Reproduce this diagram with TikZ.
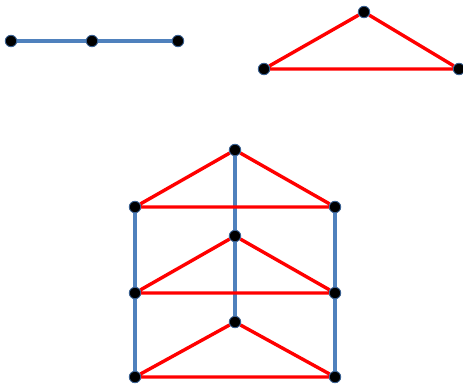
\documentclass[tikz,border=0pt]{standalone}
\usepackage{tikz}
\usetikzlibrary{backgrounds}
\definecolor{pathc}{HTML}{4F81BD}
\definecolor{trc}{HTML}{FF0000}
\definecolor{rimc}{HTML}{3A6090}

\begin{document}
\begin{tikzpicture}[x=1pt, y=-1pt,
    vtx/.style={circle, fill=black, draw=rimc, line width=0.9pt, inner sep=0pt, minimum size=11.5pt},
    pe/.style={pathc, line width=3.4pt},
    te/.style={trc, line width=3.4pt}]
  \useasboundingbox (0,0) rectangle (463,383);
  % path P3
  \foreach \x [count=\i] in {11,92,178}
     \node[vtx] (p\i) at (\x,41) {};
  % triangle K3
  \node[vtx] (t1) at (364,12) {};
  \node[vtx] (t2) at (264,69) {};
  \node[vtx] (t3) at (459,69) {};
  % product P3 x K3
  \foreach \y [count=\i] in {150,236,322}
     \node[vtx] (a\i) at (235,\y) {};
  \foreach \y [count=\i] in {207,293,377}{
     \node[vtx] (l\i) at (135,\y) {};
     \node[vtx] (r\i) at (335,\y) {};}
  \begin{scope}[on background layer]
    \draw[pe] (p1) -- (p2) -- (p3);
    \draw[te] (t1) -- (t2) -- (t3) -- (t1);
    \draw[pe] (a1) -- (a2) -- (a3) (l1) -- (l2) -- (l3) (r1) -- (r2) -- (r3);
    \foreach \i in {1,2,3}
       \draw[te] (a\i) -- (l\i) -- (r\i) -- (a\i);
  \end{scope}
\end{tikzpicture}
\end{document}
